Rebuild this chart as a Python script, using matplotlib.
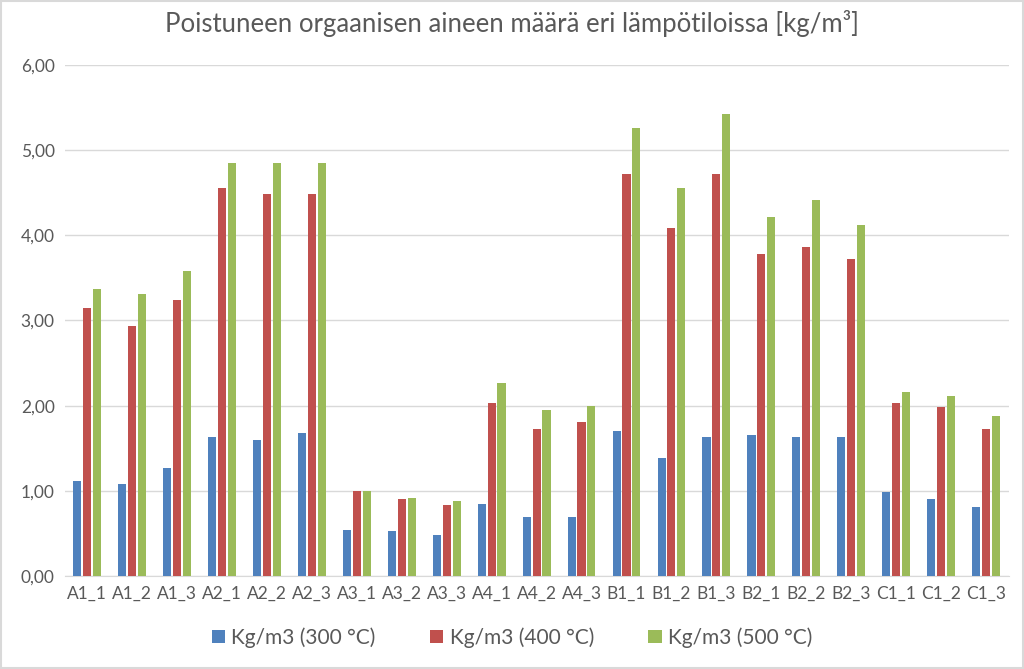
import numpy as np
import matplotlib.pyplot as plt
from matplotlib.patches import Rectangle

categories = ['A1_1', 'A1_2', 'A1_3', 'A2_1', 'A2_2', 'A2_3', 'A3_1', 'A3_2', 'A3_3',
              'A4_1', 'A4_2', 'A4_3', 'B1_1', 'B1_2', 'B1_3', 'B2_1', 'B2_2', 'B2_3',
              'C1_1', 'C1_2', 'C1_3']
t300 = [1.11, 1.08, 1.27, 1.63, 1.60, 1.68, 0.54, 0.53, 0.48, 0.85, 0.69, 0.69,
        1.70, 1.38, 1.63, 1.66, 1.63, 1.63, 0.99, 0.90, 0.81]
t400 = [3.15, 2.94, 3.24, 4.55, 4.48, 4.48, 1.00, 0.90, 0.83, 2.03, 1.72, 1.81,
        4.72, 4.09, 4.72, 3.78, 3.86, 3.72, 2.03, 1.98, 1.72]
t500 = [3.37, 3.31, 3.58, 4.85, 4.85, 4.85, 1.00, 0.91, 0.88, 2.27, 1.95, 1.99,
        5.26, 4.55, 5.42, 4.22, 4.41, 4.12, 2.16, 2.11, 1.88]
series = ['Kg/m3 (300 °C)', 'Kg/m3 (400 °C)', 'Kg/m3 (500 °C)']
colors = ['#4F81BD', '#C0504D', '#9BBB59']

plt.rcParams['font.family'] = ['Lato', 'DejaVu Sans']

fig = plt.figure(figsize=(10.24, 6.69), dpi=100)
ax = fig.add_axes([0.063, 0.139, 0.922, 0.764])

x = np.arange(len(categories))
w = 0.18
step = 0.22
for i, (vals, lab, c) in enumerate(zip([t300, t400, t500], series, colors)):
    ax.bar(x + (i - 1) * step, vals, width=w, color=c, label=lab, zorder=3)

ax.set_xlim(-0.5, len(categories) - 0.5)
ax.set_ylim(0, 6)
ax.set_yticks(np.arange(0, 7, 1))
ax.set_yticklabels([f'{v:.2f}'.replace('.', ',') for v in np.arange(0, 7, 1)])
ax.set_xticks(x)
ax.set_xticklabels(categories)
ax.tick_params(axis='both', length=0, labelsize=12.5, colors='#595959', pad=7)
ax.grid(axis='y', color='#D9D9D9', linewidth=1, zorder=0)
for s in ['top', 'right', 'left']:
    ax.spines[s].set_visible(False)
ax.spines['bottom'].set_color('#D9D9D9')

fig.suptitle('Poistuneen orgaanisen aineen määrä eri lämpötiloissa [kg/m³]',
             y=0.985, fontsize=18.5, color='#595959')

fig.legend(loc='center', bbox_to_anchor=(0.5, 0.047), ncol=3, frameon=False,
           fontsize=15, labelcolor='#595959', handlelength=0.65, handleheight=0.65,
           columnspacing=2.6, handletextpad=0.3)

fig.patches.append(Rectangle((0.001, 0.001), 0.998, 0.998, transform=fig.transFigure,
                             fill=False, edgecolor='#D9D9D9', linewidth=1.5))

fig.savefig('out.png', dpi=100)
